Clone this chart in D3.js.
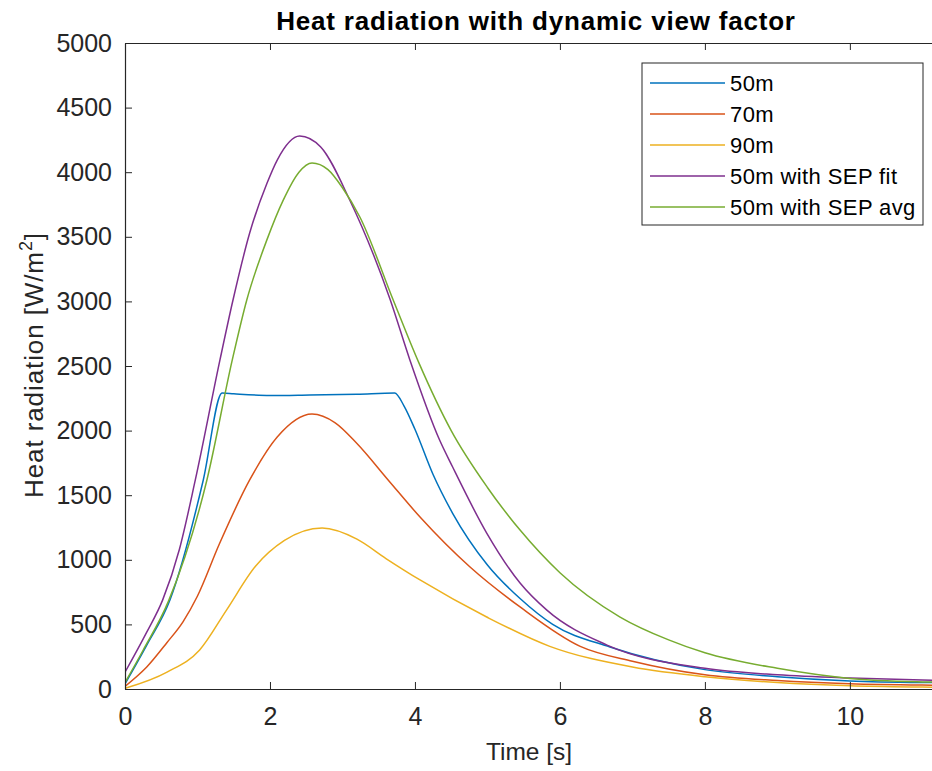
<!DOCTYPE html>
<html>
<head>
<meta charset="utf-8">
<script src="https://cdn.jsdelivr.net/npm/d3@7"></script>
<style>
  body { margin: 0; background: #fff; }
  svg text { font-family: "Liberation Sans", Arial, Helvetica, sans-serif; }
</style>
</head>
<body>
<div id="chart"></div>
<script>
// values
const seriesNames = ['50m', '70m', '90m', '50m with SEP fit', '50m with SEP avg'];
const seriesColors = ['#0072BD', '#D95319', '#EDB120', '#7E2F8E', '#77AC30'];

const time50 = [0, 0.3, 0.62, 1.08, 1.34, 1.5, 2.0, 2.55, 3.2, 3.72, 3.85, 4.0, 4.25, 4.52, 5.0, 5.45, 5.9, 6.69, 8, 9, 10, 11, 11.5];
const heat50 = [40, 340, 689, 1618, 2291, 2285, 2272, 2276, 2282, 2291, 2190, 2010, 1660, 1360, 960, 700, 500, 325, 150, 95, 62, 50, 48];

const time70 = [0, 0.3, 0.58, 0.8, 1.0, 1.3, 1.72, 2.1, 2.58, 2.9, 3.2, 3.63, 4.07, 4.76, 5.45, 6.28, 7, 8, 9, 10, 11, 11.5];
const heat70 = [20, 170, 360, 520, 720, 1120, 1618, 1950, 2128, 2060, 1900, 1618, 1331, 944, 635, 330, 215, 110, 65, 40, 30, 28];

const time90 = [0, 0.58, 1.03, 1.4, 1.8, 2.2, 2.72, 3.2, 3.6, 4.07, 4.99, 5.86, 7, 8, 9, 10, 11, 11.5];
const heat90 = [5, 131, 302, 611, 950, 1150, 1246, 1160, 1010, 844, 557, 330, 170, 95, 50, 25, 15, 12];

const timeFit = [0, 0.3, 0.52, 0.75, 0.97, 1.31, 1.49, 1.72, 1.96, 2.1, 2.41, 2.7, 3.1, 3.66, 3.93, 4.34, 4.52, 4.99, 5.45, 5.82, 6.65, 8, 9, 10, 11, 11.5];
const heatFit = [130, 440, 690, 1080, 1618, 2547, 3011, 3529, 3916, 4094, 4280, 4195, 3785, 3011, 2547, 1927, 1718, 1207, 820, 610, 340, 160, 110, 85, 70, 65];

const timeAvg = [0, 0.25, 0.6, 1.13, 1.48, 1.68, 1.96, 2.18, 2.4, 2.58, 2.8, 3.0, 3.24, 3.7, 4.05, 4.5, 5.0, 5.45, 6, 6.83, 7.5, 8, 9, 10, 11, 11.5];
const heatAvg = [50, 300, 680, 1618, 2547, 3011, 3480, 3780, 4000, 4071, 4020, 3880, 3653, 3011, 2530, 2000, 1560, 1230, 900, 557, 380, 280, 160, 82, 55, 50];

const xTicks = [0, 2, 4, 6, 8, 10];
const yTicks = d3.range(0, 5001, 500);

const series = [
    { name: seriesNames[0], color: seriesColors[0], t: time50, v: heat50 },
    { name: seriesNames[1], color: seriesColors[1], t: time70, v: heat70 },
    { name: seriesNames[2], color: seriesColors[2], t: time90, v: heat90 },
    { name: seriesNames[3], color: seriesColors[3], t: timeFit, v: heatFit },
    { name: seriesNames[4], color: seriesColors[4], t: timeAvg, v: heatAvg }
];

const width = 932, height = 771;
const plotLeft = 125, plotTop = 43, plotBottom = 689, plotRight = 947;
const axisColor = '#262626';

const svg = d3.select('#chart').append('svg')
    .attr('width', width)
    .attr('height', height);

const x = d3.scaleLinear().domain([0, 11.34]).range([plotLeft, plotRight]);
const y = d3.scaleLinear().domain([0, 5000]).range([plotBottom, plotTop]);

svg.append('clipPath').attr('id', 'plot-clip')
    .append('rect')
    .attr('x', plotLeft).attr('y', plotTop)
    .attr('width', plotRight - plotLeft).attr('height', plotBottom - plotTop);

// lines
const line = d3.line()
    .x(d => x(d[0]))
    .y(d => y(d[1]))
    .curve(d3.curveMonotoneX);

const plot = svg.append('g').attr('clip-path', 'url(#plot-clip)');
series.forEach(s => {
    plot.append('path')
        .datum(s.t.map((t, i) => [t, s.v[i]]))
        .attr('d', line)
        .attr('fill', 'none')
        .attr('stroke', s.color)
        .attr('stroke-width', 1.5);
});

// axes (ticks inward, box on)
const tickLen = 7;
const styleAxis = g => {
    g.select('.domain').attr('stroke', axisColor).attr('stroke-width', 1.2);
    g.selectAll('.tick line').attr('stroke', axisColor).attr('stroke-width', 1);
    g.selectAll('.tick text')
        .attr('fill', axisColor)
        .style('font-size', '25px');
};

svg.append('g')
    .attr('transform', `translate(0,${plotBottom})`)
    .call(d3.axisBottom(x).tickValues(xTicks).tickSizeInner(-tickLen).tickSizeOuter(0).tickPadding(18))
    .call(styleAxis);

svg.append('g')
    .attr('transform', `translate(0,${plotTop})`)
    .call(d3.axisTop(x).tickValues(xTicks).tickSizeInner(-tickLen).tickSizeOuter(0).tickFormat(''))
    .call(styleAxis);

svg.append('g')
    .attr('transform', `translate(${plotLeft},0)`)
    .call(d3.axisLeft(y).tickValues(yTicks).tickFormat(d3.format('d'))
        .tickSizeInner(-tickLen).tickSizeOuter(0).tickPadding(13))
    .call(styleAxis);

// title and labels
svg.append('text')
    .attr('x', 536).attr('y', 30)
    .attr('text-anchor', 'middle')
    .style('font-size', '26px')
    .style('font-weight', 'bold')
    .style('letter-spacing', '0.8px')
    .attr('fill', '#000')
    .text('Heat radiation with dynamic view factor');

svg.append('text')
    .attr('x', 529).attr('y', 760)
    .attr('text-anchor', 'middle')
    .style('font-size', '24.5px')
    .attr('fill', axisColor)
    .text('Time [s]');

const yLabel = svg.append('text')
    .attr('transform', `translate(43,365) rotate(-90)`)
    .attr('text-anchor', 'middle')
    .style('font-size', '26px')
    .style('letter-spacing', '0.9px')
    .attr('fill', axisColor);
yLabel.append('tspan').text('Heat radiation [W/m');
yLabel.append('tspan').attr('dy', -11).style('font-size', '18px').text('2');
yLabel.append('tspan').attr('dy', 11).text(']');

// legend
const legend = svg.append('g');
legend.append('rect')
    .attr('x', 642).attr('y', 63)
    .attr('width', 281).attr('height', 162)
    .attr('fill', '#fff')
    .attr('stroke', axisColor)
    .attr('stroke-width', 1);

series.forEach((s, i) => {
    const ly = 83 + i * 31;
    legend.append('line')
        .attr('x1', 650).attr('x2', 725)
        .attr('y1', ly).attr('y2', ly)
        .attr('stroke', s.color)
        .attr('stroke-width', 1.5);
    legend.append('text')
        .attr('x', 730).attr('y', ly)
        .attr('dy', '0.35em')
        .style('font-size', '22px')
        .style('letter-spacing', '0.4px')
        .attr('fill', '#000')
        .text(s.name);
});
</script>
</body>
</html>
